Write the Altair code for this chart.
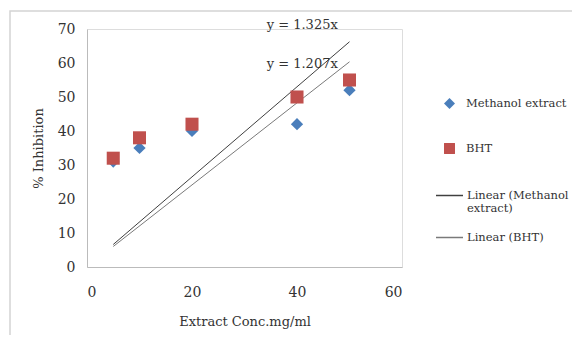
import altair as alt
import pandas as pd

conc = [5, 10, 20, 40, 50]
methanol = [31, 35, 40, 42, 52]
bht = [32, 38, 42, 50, 55]
slope_methanol = 1.325
slope_bht = 1.207
point_series = ["Methanol extract", "BHT"]
line_series = ["Linear (Methanol extract)", "Linear (BHT)"]
equations = ["y = 1.325x", "y = 1.207x"]
eq_x = [41, 41]
eq_y = [71.3, 59.7]
x_ticks = [0, 20, 40, 60]
y_ticks = [0, 10, 20, 30, 40, 50, 60, 70]

FONT = "DejaVu Serif"

pts = pd.DataFrame(
    [{"x": c, "y": v, "series": "Methanol extract"} for c, v in zip(conc, methanol)]
    + [{"x": c, "y": v, "series": "BHT"} for c, v in zip(conc, bht)]
)
lines = pd.DataFrame(
    [{"x": c, "y": slope_methanol * c, "series": line_series[0]} for c in [conc[0], conc[-1]]]
    + [{"x": c, "y": slope_bht * c, "series": line_series[1]} for c in [conc[0], conc[-1]]]
)
eqs = pd.DataFrame({"x": eq_x, "y": eq_y, "text": equations})

xs = alt.Scale(domain=[0, 60])
ys = alt.Scale(domain=[0, 70])

xaxis = alt.Axis(values=x_ticks, ticks=False, grid=False, domainColor="#bbbbbb",
                 labelFont=FONT, labelFontSize=14, labelColor="#333", labelPadding=18,
                 labelOverlap=False,
                 title="Extract Conc.mg/ml", titleFont=FONT, titleFontSize=13,
                 titleFontWeight="normal", titleColor="#333", titlePadding=16)
yaxis = alt.Axis(values=y_ticks, ticks=False, grid=False, domainColor="#bbbbbb",
                 labelFont=FONT, labelFontSize=14, labelColor="#333", labelPadding=12,
                 labelOverlap=False,
                 title="% Inhibition", titleFont=FONT, titleFontSize=13,
                 titleFontWeight="normal", titleColor="#333", titlePadding=12)

X = alt.X("x:Q", scale=xs, axis=xaxis)
Y = alt.Y("y:Q", scale=ys, axis=yaxis)

border = alt.Chart(pd.DataFrame({"a": [0]})).mark_rect(
    fill=None, stroke="#d4d4d4", strokeWidth=1.5, clip=False
).encode(x=alt.value(-77), x2=alt.value(520), y=alt.value(-18), y2=alt.value(340))

line_layer = alt.Chart(lines).mark_line(strokeWidth=1).encode(
    x=X, y=Y,
    detail="series:N",
    stroke=alt.Stroke("series:N", scale=alt.Scale(domain=line_series, range=["#404040", "#7a7a7a"]),
                      legend=alt.Legend(title=None, orient="none", legendX=348, legendY=152,
                                        symbolType="stroke", symbolSize=729, symbolStrokeWidth=1.5,
                                        labelFont=FONT, labelFontSize=11.5, labelColor="#333",
                                        labelOffset=3, rowPadding=8, padding=0, labelLimit=200,
                                        labelExpr="datum.label == 'Linear (Methanol extract)' ? ['Linear (Methanol', 'extract)'] : datum.label")),
)

point_layer = alt.Chart(pts).mark_point(filled=True, opacity=1).encode(
    x=X, y=Y,
    color=alt.Color("series:N", scale=alt.Scale(domain=point_series, range=["#4a7ebb", "#c0504d"]),
                    legend=alt.Legend(title=None, orient="none", legendX=356, legendY=68,
                                      symbolSize=120, labelFont=FONT, labelFontSize=11.5,
                                      labelColor="#333", labelOffset=10, rowPadding=28, padding=0,
                                      symbolOpacity=1, labelLimit=200)),
    shape=alt.Shape("series:N", scale=alt.Scale(domain=point_series, range=["diamond", "square"])),
    size=alt.Size("series:N", scale=alt.Scale(domain=point_series, range=[150, 170]), legend=None),
    order=alt.Order("series:N", sort="descending"),
)

eq_layer = alt.Chart(eqs).mark_text(font=FONT, fontSize=13, color="#333").encode(
    x=X, y=Y, text="text:N"
)

chart = alt.layer(border, line_layer, point_layer, eq_layer).resolve_scale(
    color="independent", shape="independent"
).properties(
    width=315, height=238,
    autosize=alt.AutoSizeParams(type="none"),
    padding={"left": 79, "top": 21, "right": 170, "bottom": 68},
).configure_view(stroke=None).configure_axis(labelOverlap=False).configure(background="white")

chart.save("out.html", embed_options={"renderer": "svg", "actions": False})
